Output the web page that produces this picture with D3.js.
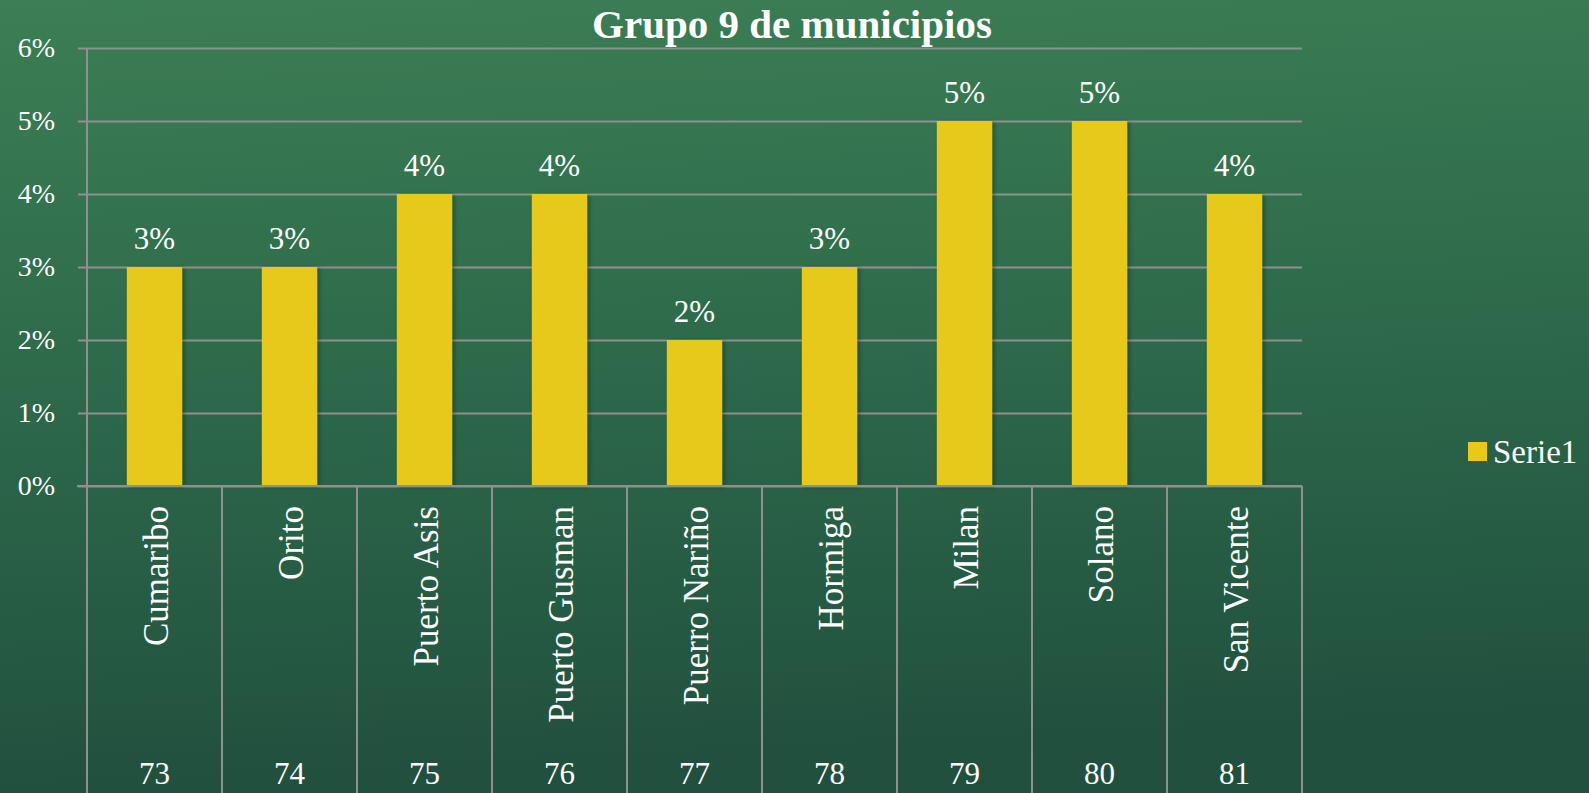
<!DOCTYPE html>
<html>
<head>
<meta charset="utf-8">
<script src="https://cdn.jsdelivr.net/npm/d3@7"></script>
<style>
  html, body { margin: 0; padding: 0; overflow: hidden; }
  body { width: 1589px; height: 793px; }
  svg text { font-family: "Liberation Serif", "Times New Roman", serif; fill: #ffffff; }
</style>
</head>
<body>
<svg id="chart" width="1589" height="793"></svg>
<script>
// data
const municipios = ['Cumaribo', 'Orito', 'Puerto Asis', 'Puerto Gusman', 'Puerro Nariño', 'Hormiga', 'Milan', 'Solano', 'San Vicente'];
const codigos = ['73', '74', '75', '76', '77', '78', '79', '80', '81'];
const valores = [0.03, 0.03, 0.04, 0.04, 0.02, 0.03, 0.05, 0.05, 0.04];
const yTicks = [0, 0.01, 0.02, 0.03, 0.04, 0.05, 0.06];
const serieName = 'Serie1';
const chartTitle = 'Grupo 9 de municipios';

const W = 1589, H = 793;
const plot = { left: 87, right: 1302, top: 48, bottom: 486 };
const gridColor = '#909090';
const barColor = '#e7c91a';

const svg = d3.select('#chart');

// background
const defs = svg.append('defs');
const bg = defs.append('linearGradient').attr('id', 'bg')
    .attr('x1', 0).attr('y1', 0).attr('x2', 0.1).attr('y2', 1);
bg.append('stop').attr('offset', '0%').attr('stop-color', '#3c7e55');
bg.append('stop').attr('offset', '45%').attr('stop-color', '#2e6b4b');
bg.append('stop').attr('offset', '100%').attr('stop-color', '#21503e');

const shadow = defs.append('filter').attr('id', 'shadow')
    .attr('x', '-20%').attr('y', '-5%').attr('width', '140%').attr('height', '110%');
shadow.append('feDropShadow').attr('dx', 2).attr('dy', 1).attr('stdDeviation', 2)
    .attr('flood-color', '#000').attr('flood-opacity', 0.35);

svg.append('rect').attr('width', W).attr('height', H).attr('fill', 'url(#bg)');

// scales
const x = d3.scaleBand().domain(municipios).range([plot.left, plot.right]).padding(0);
const y = d3.scaleLinear().domain([0, 0.06]).range([plot.bottom, plot.top]);
const barW = x.bandwidth() * 0.41;

// gridlines + y axis
const yAxis = d3.axisLeft(y)
    .tickValues(yTicks)
    .tickSize(plot.right - plot.left + 9)
    .tickFormat(d3.format('.0%'));

const gy = svg.append('g')
    .attr('transform', `translate(${plot.right},0)`)
    .call(yAxis);
gy.select('.domain').remove();
gy.selectAll('.tick line').attr('stroke', gridColor).attr('stroke-width', 2);
gy.selectAll('.tick text')
    .attr('x', -(plot.right - 55))
    .attr('dy', '0.32em')
    .attr('font-size', '28px')
    .attr('fill', '#fff');

// vertical axis line and category separators running to the bottom
const seps = municipios.map(m => x(m)).concat([plot.right]);
svg.append('line')
    .attr('x1', plot.left).attr('x2', plot.left)
    .attr('y1', plot.top).attr('y2', plot.bottom)
    .attr('stroke', gridColor).attr('stroke-width', 2);
svg.selectAll('.sep')
    .data(seps)
    .enter().append('line')
    .attr('class', 'sep')
    .attr('x1', d => d).attr('x2', d => d)
    .attr('y1', plot.bottom).attr('y2', H)
    .attr('stroke', gridColor).attr('stroke-width', 2);

// bars
svg.selectAll('.bar')
    .data(valores)
    .enter().append('rect')
    .attr('class', 'bar')
    .attr('x', (d, i) => x(municipios[i]) + (x.bandwidth() - barW) / 2)
    .attr('y', d => y(d))
    .attr('width', barW)
    .attr('height', d => y(0) - y(d))
    .attr('fill', barColor)
    .attr('filter', 'url(#shadow)');

// redraw the 0% baseline over the bars
svg.append('line')
    .attr('x1', plot.left - 10).attr('x2', plot.right)
    .attr('y1', y(0)).attr('y2', y(0))
    .attr('stroke', gridColor).attr('stroke-width', 2);

// data labels
svg.selectAll('.dlabel')
    .data(valores)
    .enter().append('text')
    .attr('class', 'dlabel')
    .attr('x', (d, i) => x(municipios[i]) + x.bandwidth() / 2)
    .attr('y', d => y(d) - 18)
    .attr('text-anchor', 'middle')
    .attr('font-size', '31px')
    .text(d => d3.format('.0%')(d));

// category names (rotated)
svg.selectAll('.cat')
    .data(municipios)
    .enter().append('text')
    .attr('class', 'cat')
    .attr('transform', d => `translate(${x(d) + x.bandwidth() / 2 + 13},${plot.bottom + 20}) rotate(-90)`)
    .attr('text-anchor', 'end')
    .attr('font-size', '35px')
    .text(d => d);

// second level: codes
svg.selectAll('.code')
    .data(codigos)
    .enter().append('text')
    .attr('class', 'code')
    .attr('x', (d, i) => x(municipios[i]) + x.bandwidth() / 2)
    .attr('y', 784)
    .attr('text-anchor', 'middle')
    .attr('font-size', '31px')
    .text(d => d);

// title
svg.append('text')
    .attr('x', 792)
    .attr('y', 38)
    .attr('text-anchor', 'middle')
    .attr('font-size', '41px')
    .attr('font-weight', 'bold')
    .text(chartTitle);

// legend
const legend = svg.append('g').attr('transform', 'translate(1468,442)');
legend.append('rect').attr('width', 19).attr('height', 19).attr('fill', barColor);
legend.append('text').attr('x', 25).attr('y', 21).attr('font-size', '33px').text(serieName);
</script>
</body>
</html>
